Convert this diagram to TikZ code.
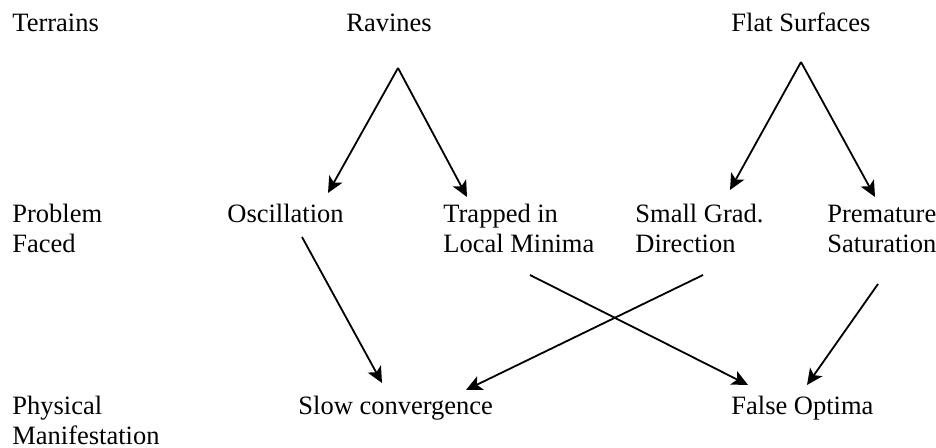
\documentclass[tikz,border=0pt]{standalone}
\usepackage{fontspec}
\setmainfont{Liberation Serif}
\usetikzlibrary{arrows.meta}
\begin{document}
\begin{tikzpicture}[x=0.5pt,y=-0.5pt,
  lbl/.style={anchor=base west,inner sep=0pt,align=left,
    font=\fontsize{13.25pt}{15pt}\selectfont},
  arr/.style={-{Stealth[length=8pt,width=7.5pt,inset=2pt]},line width=0.9pt}]
\useasboundingbox (0,0) rectangle (936,448);
% row captions (two-line nodes sit on the baseline of their last line)
\node[lbl] (terr) at (12,32) {Terrains};
\node[lbl] (prob) at (12,253) {Problem\\Faced};
\node[lbl] (phys) at (12,444) {Physical\\Manifestation};
% terrains
\node[lbl] (rav) at (346,32) {Ravines};
\node[lbl] (flat) at (731,32) {Flat Surfaces};
% problems
\node[lbl] (osc) at (227,223) {Oscillation};
\node[lbl] (trap) at (443,253) {Trapped in\\Local Minima};
\node[lbl] (small) at (635,253) {Small Grad.\\Direction};
\node[lbl] (prem) at (827,253) {Premature\\Saturation};
% manifestations
\node[lbl] (slow) at (298,414) {Slow convergence};
\node[lbl] (false) at (731,414) {False Optima};
% connector end points
\coordinate (rav-o) at (398,68);
\coordinate (osc-i) at (328,193);
\coordinate (trap-i) at (467,197);
\coordinate (flat-o) at (801,62);
\coordinate (small-i) at (730,190);
\coordinate (prem-i) at (875,197);
\coordinate (osc-o) at (302,237);
\coordinate (trap-o) at (530,275);
\coordinate (small-o) at (703,275);
\coordinate (prem-o) at (878,284);
\coordinate (slow-a) at (382,383);
\coordinate (slow-b) at (466,390);
\coordinate (false-a) at (748,385);
\coordinate (false-b) at (807,385);
% connectors
\draw[arr] (rav-o) -- (osc-i);
\draw[arr] (rav-o) -- (trap-i);
\draw[arr] (flat-o) -- (small-i);
\draw[arr] (flat-o) -- (prem-i);
\draw[arr] (osc-o) -- (slow-a);
\draw[arr] (small-o) -- (slow-b);
\draw[arr] (trap-o) -- (false-a);
\draw[arr] (prem-o) -- (false-b);
\end{tikzpicture}
\end{document}
